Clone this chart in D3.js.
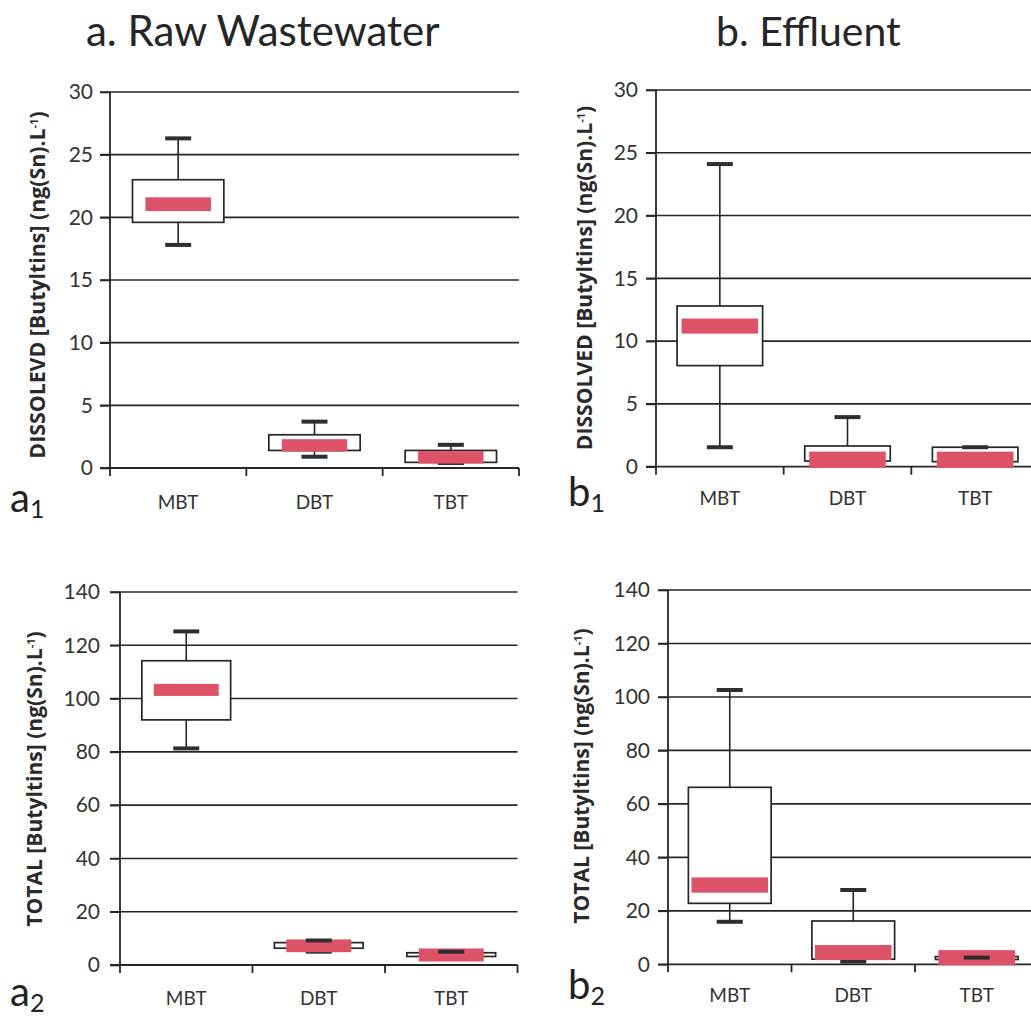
<!DOCTYPE html>
<html>
<head>
<meta charset="utf-8">
<script src="https://cdn.jsdelivr.net/npm/d3@7"></script>
<style>
  html, body { margin: 0; padding: 0; background: #fff; }
  svg { display: block; font-family: Lato, "Open Sans", sans-serif; }
</style>
</head>
<body>
<svg id="chart" width="1031" height="1016"></svg>
<script>
// Butyltin box plots: raw wastewater vs effluent, dissolved and total fractions.
const categories = ["MBT", "DBT", "TBT"];

// Each row: [whisker low, Q1, Q3, whisker high, central band low, central band high]
const rawDissolved = [
  [17.8, 19.6, 23.0, 26.3, 20.5, 21.6],
  [0.9, 1.4, 2.65, 3.7, 1.3, 2.3],
  [0.4, 0.45, 1.4, 1.85, 0.35, 1.35]
];
const effDissolved = [
  [1.55, 8.05, 12.8, 24.1, 10.6, 11.8],
  [0.3, 0.45, 1.65, 3.95, -0.1, 1.2],
  [0.3, 0.4, 1.55, 1.55, -0.1, 1.2]
];
const rawTotal = [
  [81.3, 92.0, 114.2, 125.2, 101.0, 105.5],
  [5.0, 6.3, 8.4, 9.2, 4.8, 9.6],
  [3.0, 3.2, 4.6, 5.0, 1.3, 6.2]
];
const effTotal = [
  [15.9, 22.8, 66.2, 102.6, 26.8, 32.5],
  [1.0, 1.9, 16.2, 27.8, 1.6, 7.2],
  [1.0, 1.8, 2.9, 2.5, -0.4, 5.3]
];

const dissolvedTicks = [0, 5, 10, 15, 20, 25, 30];
const totalTicks = [0, 20, 40, 60, 80, 100, 120, 140];

const svg = d3.select("#chart");
const ink = "#262626";
const red = "#de5268";

// Column headers
svg.append("text").attr("x", 86).attr("y", 46)
  .attr("font-size", 42).attr("fill", ink).text("a. Raw Wastewater");
svg.append("text").attr("x", 716).attr("y", 46)
  .attr("font-size", 41).attr("fill", ink).text("b. Effluent");

function panel(cfg) {
  const { data, ticks, left, right, yZero, yTop, yLabel, labelX, labelY, labelLen,
          redFrac, tag, sub, tagX, tagY, catY, tickLabelX } = cfg;
  const maxV = ticks[ticks.length - 1];
  const y = d3.scaleLinear().domain([0, maxV]).range([yZero, yTop]);
  const x = d3.scaleBand().domain(categories).range([left, right]).padding(0);
  const g = svg.append("g");

  // horizontal gridlines, starting at the outer tick
  g.selectAll("line.grid").data(ticks.slice(1)).join("line")
    .attr("class", "grid")
    .attr("x1", left - 10).attr("x2", right)
    .attr("y1", d => y(d)).attr("y2", d => y(d))
    .attr("stroke", ink).attr("stroke-width", 1.6);

  // y axis with outward ticks and labels
  const yAxis = d3.axisLeft(y).tickValues(ticks).tickSize(10).tickSizeOuter(0).tickPadding(0);
  const ya = g.append("g").attr("transform", `translate(${left},0)`).call(yAxis);
  ya.select(".domain").remove();
  ya.selectAll(".tick line").attr("stroke", ink).attr("stroke-width", 1.6);
  ya.selectAll(".tick text")
    .attr("x", tickLabelX - left)
    .attr("font-size", 21).attr("fill", "#333")
    .attr("font-family", "Lato, 'Open Sans', sans-serif");
  g.append("line").attr("x1", left).attr("x2", left)
    .attr("y1", y(maxV)).attr("y2", yZero + 8)
    .attr("stroke", ink).attr("stroke-width", 1.8);

  // x axis with ticks at category boundaries
  g.append("line").attr("x1", left - 10).attr("x2", right)
    .attr("y1", yZero).attr("y2", yZero)
    .attr("stroke", ink).attr("stroke-width", 1.8);
  const bounds = categories.map(c => x(c)).concat([x(categories[2]) + x.bandwidth()]).slice(1);
  g.selectAll("line.xt").data(bounds).join("line")
    .attr("class", "xt")
    .attr("x1", d => d).attr("x2", d => d)
    .attr("y1", yZero).attr("y2", yZero + 8)
    .attr("stroke", ink).attr("stroke-width", 1.8);
  g.selectAll("text.cat").data(categories).join("text")
    .attr("class", "cat")
    .attr("x", d => x(d) + x.bandwidth() / 2).attr("y", catY)
    .attr("text-anchor", "middle").attr("font-size", 19).attr("fill", "#333")
    .text(d => d);

  const bw = x.bandwidth();
  const rows = data.map((r, i) => ({ cat: categories[i], lo: r[0], q1: r[1], q3: r[2], hi: r[3], mLo: r[4], mHi: r[5] }));
  const cx = d => x(d.cat) + bw / 2;
  const capW = 26;

  // whisker stems
  g.selectAll("line.wu").data(rows).join("line")
    .attr("x1", cx).attr("x2", cx)
    .attr("y1", d => y(d.q3)).attr("y2", d => y(d.hi))
    .attr("stroke", ink).attr("stroke-width", 1.6);
  g.selectAll("line.wl").data(rows).join("line")
    .attr("x1", cx).attr("x2", cx)
    .attr("y1", d => y(d.q1)).attr("y2", d => y(d.lo))
    .attr("stroke", ink).attr("stroke-width", 1.6);

  // lower caps sit beneath the box and band
  g.selectAll("rect.caplo").data(rows).join("rect")
    .attr("x", d => cx(d) - capW / 2).attr("width", capW)
    .attr("y", d => y(d.lo) - 2).attr("height", 4)
    .attr("fill", "#2e2e2e");

  // boxes
  const boxW = bw * 0.67;
  g.selectAll("rect.box").data(rows).join("rect")
    .attr("x", d => cx(d) - boxW / 2).attr("width", boxW)
    .attr("y", d => y(d.q3)).attr("height", d => Math.max(1, y(d.q1) - y(d.q3)))
    .attr("fill", "#fff").attr("stroke", ink).attr("stroke-width", 1.7);

  // central red band
  const rW = bw * redFrac;
  g.selectAll("rect.mid").data(rows).join("rect")
    .attr("x", d => cx(d) - rW / 2).attr("width", rW)
    .attr("y", d => y(d.mHi)).attr("height", d => y(d.mLo) - y(d.mHi))
    .attr("fill", red);

  // upper caps drawn on top
  g.selectAll("rect.caphi").data(rows).join("rect")
    .attr("x", d => cx(d) - capW / 2).attr("width", capW)
    .attr("y", d => y(d.hi) - 2).attr("height", 4)
    .attr("fill", "#2e2e2e");

  // rotated axis title, sized to span its allotted length
  const fs = 17;
  const t = svg.append("text")
    .attr("transform", `translate(${labelX},${labelY}) rotate(-90)`)
    .attr("text-anchor", "middle").attr("font-size", fs).attr("font-weight", "bold")
    .attr("font-family", "'Open Sans', Lato, sans-serif").attr("fill", "#2a2a2a");
  t.append("tspan").text(yLabel + " (ng(Sn).L");
  t.append("tspan").attr("dy", -7).attr("font-size", 11).text("-1");
  t.append("tspan").attr("dy", 7).text(")");
  const len = t.node().getComputedTextLength();
  if (len > 0) t.attr("font-size", fs * labelLen / len);

  // panel tag
  const tg = svg.append("text").attr("x", tagX).attr("y", tagY).attr("fill", "#222");
  tg.append("tspan").attr("font-size", 40).text(tag);
  tg.append("tspan").attr("font-size", 25).attr("dy", 6).text(sub);
}

panel({ data: rawDissolved, ticks: dissolvedTicks, left: 110, right: 519, yZero: 468, yTop: 92,
  yLabel: "DISSOLEVD [Butyltins]", labelX: 45, labelY: 285, labelLen: 350, redFrac: 0.48,
  tag: "a", sub: "1", tagX: 10, tagY: 512, catY: 509, tickLabelX: 93 });
panel({ data: effDissolved, ticks: dissolvedTicks, left: 656, right: 1039, yZero: 466.7, yTop: 90,
  yLabel: "DISSOLVED [Butyltins]", labelX: 592, labelY: 278, labelLen: 347, redFrac: 0.6,
  tag: "b", sub: "1", tagX: 568, tagY: 506, catY: 505, tickLabelX: 638 });
panel({ data: rawTotal, ticks: totalTicks, left: 120, right: 517.5, yZero: 965, yTop: 592,
  yLabel: "TOTAL [Butyltins]", labelX: 42, labelY: 779, labelLen: 298, redFrac: 0.49,
  tag: "a", sub: "2", tagX: 10, tagY: 1006, catY: 1005, tickLabelX: 100 });
panel({ data: effTotal, ticks: totalTicks, left: 668, right: 1038.5, yZero: 964.3, yTop: 590,
  yLabel: "TOTAL [Butyltins]", labelX: 589, labelY: 776, labelLen: 298, redFrac: 0.62,
  tag: "b", sub: "2", tagX: 568, tagY: 999, catY: 1002, tickLabelX: 650 });
</script>
</body>
</html>
